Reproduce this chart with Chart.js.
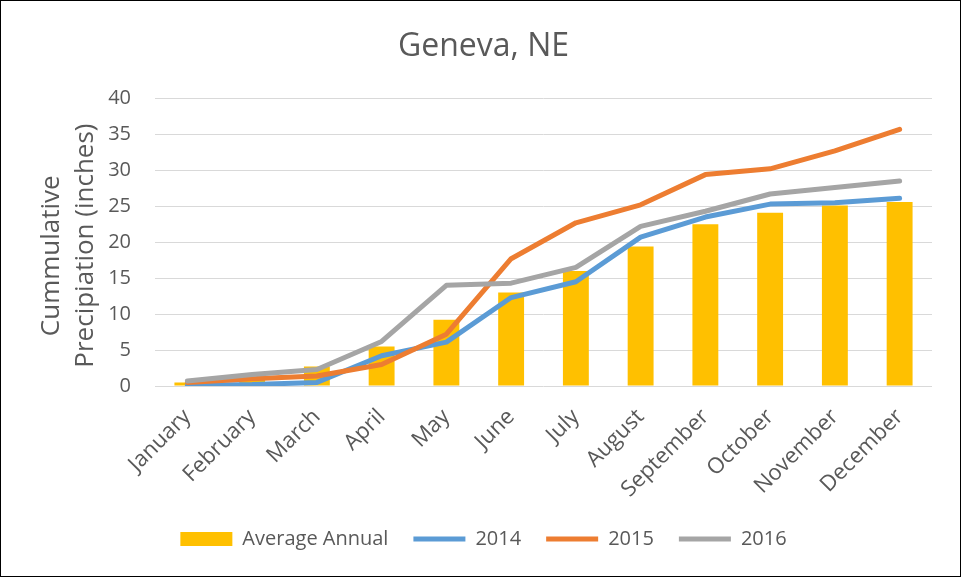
<!DOCTYPE html>
<html>
<head>
<meta charset="utf-8">
<script src="https://cdn.jsdelivr.net/npm/chart.js@4/dist/chart.umd.min.js"></script>
<style>
  html, body { margin: 0; padding: 0; background: #fff; }
  #wrap { position: relative; width: 961px; height: 577px; box-sizing: border-box; border: 1px solid #000; }
</style>
</head>
<body>
<div id="wrap"><canvas id="rainChart"></canvas></div>
<script>
// Chart data
const months = ['January', 'February', 'March', 'April', 'May', 'June', 'July',
  'August', 'September', 'October', 'November', 'December'];
const avgAnnual = [0.5, 1.2, 2.7, 5.5, 9.2, 13.0, 16.0, 19.4, 22.5, 24.1, 25.1, 25.6];
const rain2014 = [0.1, 0.2, 0.5, 4.2, 6.1, 12.3, 14.5, 20.7, 23.5, 25.3, 25.5, 26.1];
const rain2015 = [0.5, 1.0, 1.4, 3.0, 7.2, 17.7, 22.7, 25.2, 29.4, 30.2, 32.7, 35.7];
const rain2016 = [0.7, 1.6, 2.3, 6.2, 14.0, 14.3, 16.5, 22.2, 24.3, 26.7, 27.6, 28.5];
const yTicks = [0, 5, 10, 15, 20, 25, 30, 35, 40];

const textColor = '#595959';
const fontFamily = "'Open Sans', 'DejaVu Sans', sans-serif";

function lineSet(label, data, color, order) {
  return {
    type: 'line',
    label: label,
    data: data,
    borderColor: color,
    backgroundColor: color,
    borderWidth: 5,
    borderCapStyle: 'round',
    borderJoinStyle: 'round',
    pointRadius: 0,
    pointHoverRadius: 0,
    pointStyle: 'line',
    tension: 0,
    fill: false,
    order: order
  };
}

const ctx = document.getElementById('rainChart');
new Chart(ctx, {
  type: 'bar',
  data: {
    labels: months,
    datasets: [{
      label: 'Average Annual',
      data: avgAnnual,
      backgroundColor: '#FFC000',
      borderWidth: 0,
      barPercentage: 0.4,
      categoryPercentage: 1.0,
      pointStyle: 'rect',
      order: 4
    },
    lineSet('2014', rain2014, '#5B9BD5', 3),
    lineSet('2015', rain2015, '#ED7D31', 2),
    lineSet('2016', rain2016, '#A5A5A5', 1)]
  },
  options: {
    responsive: true,
    maintainAspectRatio: false,
    animation: false,
    layout: {
      padding: { left: 34, right: 28, top: 0, bottom: 17 }
    },
    plugins: {
      title: {
        display: true,
        text: 'Geneva, NE',
        color: textColor,
        font: { family: fontFamily, size: 32, weight: 'normal' },
        padding: { top: 27, bottom: 32 }
      },
      legend: {
        display: true,
        position: 'bottom',
        labels: {
          color: textColor,
          font: { family: fontFamily, size: 20 },
          usePointStyle: true,
          pointStyleWidth: 52,
          boxHeight: 14,
          padding: 25,
          sort: (a, b) => a.datasetIndex - b.datasetIndex
        }
      },
      tooltip: { enabled: false }
    },
    scales: {
      y: {
        min: 0,
        max: 40,
        afterBuildTicks: function(axis) {
          axis.ticks = yTicks.map(v => ({ value: v }));
        },
        afterFit: function(axis) {
          axis.width = 120;
        },
        border: { display: false },
        grid: { color: '#D9D9D9', lineWidth: 1, drawTicks: false },
        ticks: {
          color: textColor,
          font: { family: fontFamily, size: 20 },
          padding: 24
        },
        title: {
          display: true,
          text: ['Cummulative    ', 'Precipiation (inches) '],
          color: textColor,
          font: { family: fontFamily, size: 26, lineHeight: 1.3 },
          padding: { top: 0, bottom: 0 }
        }
      },
      x: {
        afterFit: function(axis) {
          axis.height = 118;
        },
        border: { display: false },
        grid: { display: false },
        ticks: {
          color: textColor,
          font: { family: fontFamily, size: 22 },
          minRotation: 45,
          maxRotation: 45,
          padding: 10,
          autoSkip: false
        }
      }
    }
  }
});
</script>
</body>
</html>
